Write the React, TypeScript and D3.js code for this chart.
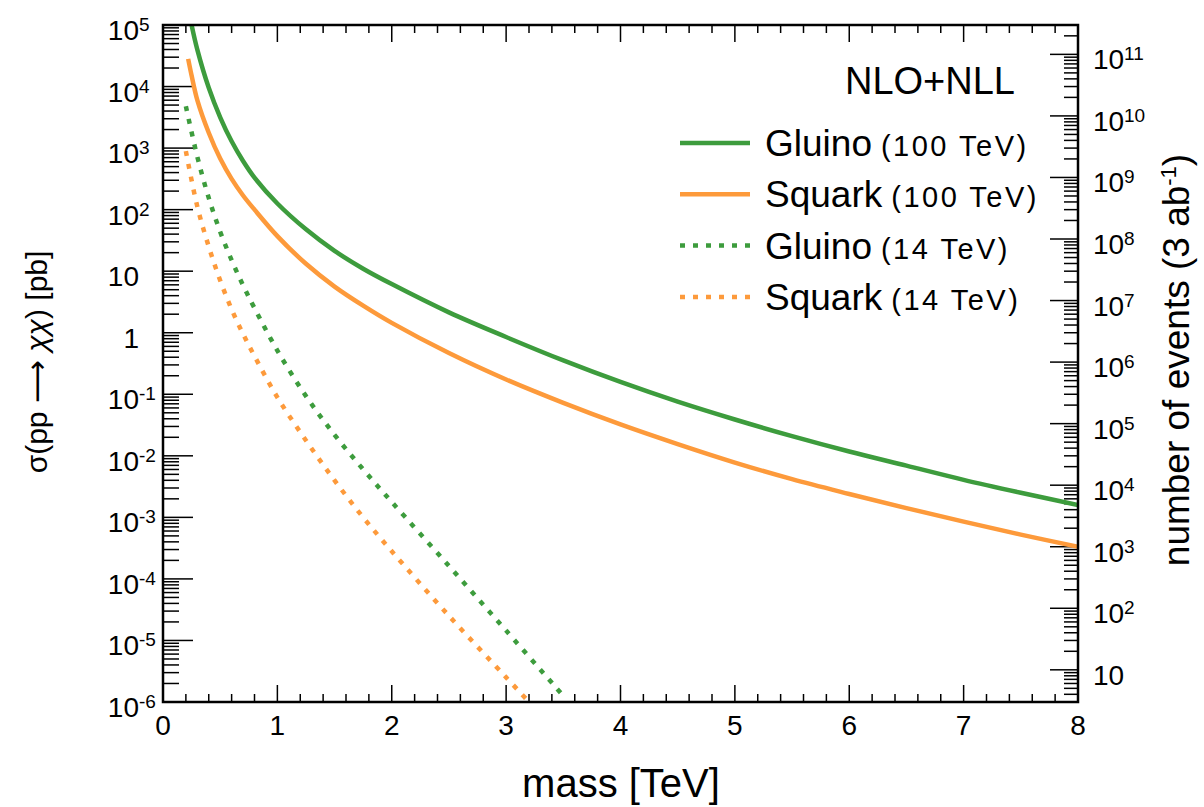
import React, { useEffect, useRef } from 'react';
import * as d3 from 'd3';

// values, as log10(sigma / pb)
const gluino100Mass = [0.25, 0.3, 0.4, 0.5, 0.6, 0.7, 0.8, 1.0, 1.25, 1.5, 1.75, 2.0, 2.5, 3.0, 3.5, 4.0, 4.5, 5.0, 5.5, 6.0, 6.5, 7.0, 7.5, 8.0];
const gluino100Log = [5.0, 4.6, 3.98, 3.5, 3.11, 2.79, 2.52, 2.1, 1.68, 1.33, 1.04, 0.79, 0.33, -0.07, -0.45, -0.8, -1.12, -1.41, -1.68, -1.93, -2.16, -2.39, -2.6, -2.8];

const squark100Mass = [0.22, 0.25, 0.3, 0.4, 0.5, 0.6, 0.7, 0.8, 1.0, 1.25, 1.5, 1.75, 2.0, 2.5, 3.0, 3.5, 4.0, 4.5, 5.0, 5.5, 6.0, 6.5, 7.0, 7.5, 8.0];
const squark100Log = [4.45, 4.18, 3.78, 3.25, 2.83, 2.5, 2.23, 2.0, 1.57, 1.12, 0.75, 0.44, 0.16, -0.33, -0.76, -1.14, -1.49, -1.81, -2.11, -2.38, -2.62, -2.85, -3.07, -3.28, -3.48];

const gluino14Mass = [0.2, 0.3, 0.4, 0.5, 0.6, 0.7, 0.8, 1.0, 1.25, 1.5, 1.75, 2.0, 2.5, 3.0, 3.5];
const gluino14Log = [3.68, 2.86, 2.19, 1.64, 1.18, 0.77, 0.4, -0.29, -1.03, -1.66, -2.22, -2.75, -3.79, -4.84, -5.9];

const squark14Mass = [0.2, 0.3, 0.4, 0.5, 0.6, 0.7, 0.8, 1.0, 1.25, 1.5, 1.75, 2.0, 2.5, 3.0, 3.2];
const squark14Log = [2.95, 2.05, 1.4, 0.85, 0.38, -0.02, -0.38, -1.05, -1.75, -2.4, -3.0, -3.55, -4.6, -5.6, -6.0];

const massTicks = [0, 1, 2, 3, 4, 5, 6, 7, 8];
const xsecExponents = [5, 4, 3, 2, 1, 0, -1, -2, -3, -4, -5, -6];
const eventExponents = [11, 10, 9, 8, 7, 6, 5, 4, 3, 2, 1];
const luminosity = 3e6; // 3 ab^-1 in pb^-1

const legendLabels = ['Gluino', 'Squark', 'Gluino', 'Squark'];
const legendEnergies = ['(100 TeV)', '(100 TeV)', '(14 TeV)', '(14 TeV)'];

const GREEN = '#3d9c3d';
const ORANGE = '#fd9a3b';
const FONT = '"Liberation Sans", Arial, Helvetica, sans-serif';

const App = () => {
  const ref = useRef<SVGSVGElement | null>(null);

  useEffect(() => {
    const W = 1204, H = 807;
    const margin = { top: 25, right: 126, bottom: 105, left: 163 };
    const w = W - margin.left - margin.right;
    const h = H - margin.top - margin.bottom;

    const svg = d3.select(ref.current);
    svg.selectAll('*').remove();

    const x = d3.scaleLinear().domain([0, 8]).range([0, w]);
    const y = d3.scaleLog().domain([1e-6, 1e5]).range([h, 0]);
    const yR = d3.scaleLog().domain([1e-6 * luminosity, 1e5 * luminosity]).range([h, 0]);

    svg.append('defs').append('clipPath').attr('id', 'plotclip')
      .append('rect').attr('width', w).attr('height', h);

    const g = svg.append('g').attr('transform', `translate(${margin.left},${margin.top})`);

    // x ticks, bottom and top
    const xMinor = d3.range(0, 8.001, 0.2);
    xMinor.forEach(v => {
      const major = Math.abs(v - Math.round(v)) < 1e-6;
      const len = major ? 17 : 8;
      g.append('line').attr('x1', x(v)).attr('x2', x(v)).attr('y1', h).attr('y2', h - len)
        .attr('stroke', '#000').attr('stroke-width', 1.5);
      g.append('line').attr('x1', x(v)).attr('x2', x(v)).attr('y1', 0).attr('y2', len)
        .attr('stroke', '#000').attr('stroke-width', 1.5);
    });
    massTicks.forEach(v => {
      g.append('text').attr('x', x(v)).attr('y', h + 33).attr('text-anchor', 'middle')
        .attr('font-family', FONT).attr('font-size', 28).text(v);
    });

    // left axis ticks
    for (let e = -6; e < 5; e++) {
      for (let k = 1; k < 10; k++) {
        const v = k * Math.pow(10, e);
        g.append('line').attr('x1', 0).attr('x2', k === 1 ? 30 : 16)
          .attr('y1', y(v)).attr('y2', y(v)).attr('stroke', '#000').attr('stroke-width', 1.5);
      }
    }
    g.append('line').attr('x1', 0).attr('x2', 30).attr('y1', y(1e5)).attr('y2', y(1e5))
      .attr('stroke', '#000').attr('stroke-width', 1.5);

    xsecExponents.forEach(e => {
      const t = g.append('text').attr('x', -24).attr('y', y(Math.pow(10, e)) + 15)
        .attr('font-family', FONT).attr('font-size', 28).attr('text-anchor', 'end');
      if (e === 0) t.text('1');
      else if (e === 1) t.text('10');
      else {
        t.text('10');
        g.append('text').attr('x', -24).attr('y', y(Math.pow(10, e)) + 6)
          .attr('font-family', FONT).attr('font-size', 19).attr('text-anchor', 'start')
          .text(e < 0 ? `-${-e}` : `${e}`);
      }
    });

    // right axis (number of events)
    const [lo, hi] = yR.domain();
    for (let e = 0; e < 12; e++) {
      for (let k = 1; k < 10; k++) {
        const v = k * Math.pow(10, e);
        if (v < lo || v > hi) continue;
        g.append('line').attr('x1', w).attr('x2', w - (k === 1 ? 28 : 14))
          .attr('y1', yR(v)).attr('y2', yR(v)).attr('stroke', '#000').attr('stroke-width', 1.5);
      }
    }
    eventExponents.forEach(e => {
      const yy = yR(Math.pow(10, e));
      g.append('text').attr('x', w + 15).attr('y', yy + 15)
        .attr('font-family', FONT).attr('font-size', 28).text('10');
      if (e !== 1) {
        g.append('text').attr('x', w + 15 + 31).attr('y', yy + 6)
          .attr('font-family', FONT).attr('font-size', 19).text(e);
      }
    });

    // curves
    const line = d3.line<[number, number]>()
      .x(d => x(d[0]))
      .y(d => y(Math.pow(10, d[1])))
      .curve(d3.curveCatmullRom.alpha(0.5));

    const series = [
      { m: gluino100Mass, v: gluino100Log, color: GREEN, dash: null },
      { m: squark100Mass, v: squark100Log, color: ORANGE, dash: null },
      { m: gluino14Mass, v: gluino14Log, color: GREEN, dash: '5 8' },
      { m: squark14Mass, v: squark14Log, color: ORANGE, dash: '5 8' },
    ];
    const plot = g.append('g').attr('clip-path', 'url(#plotclip)');
    series.forEach(s => {
      const pts = s.m.map((m, i) => [m, s.v[i]] as [number, number]);
      plot.append('path').attr('d', line(pts)).attr('fill', 'none')
        .attr('stroke', s.color).attr('stroke-width', 4.5)
        .attr('stroke-dasharray', s.dash);
    });

    // frame
    g.append('rect').attr('width', w).attr('height', h).attr('fill', 'none')
      .attr('stroke', '#000').attr('stroke-width', 2.5);

    // legend
    g.append('text').attr('x', 1015 - margin.left).attr('y', 94 - margin.top)
      .attr('text-anchor', 'end').attr('font-family', FONT).attr('font-size', 38).text('NLO+NLL');
    series.forEach((s, i) => {
      const yy = 143 - margin.top + i * 51.3;
      g.append('line').attr('x1', 680 - margin.left).attr('x2', 750 - margin.left)
        .attr('y1', yy).attr('y2', yy).attr('stroke', s.color).attr('stroke-width', 4.5)
        .attr('stroke-dasharray', s.dash);
      const t = g.append('text').attr('x', 765 - margin.left).attr('y', yy + 13)
        .attr('font-family', FONT).attr('font-size', 37);
      t.append('tspan').text(legendLabels[i]);
      t.append('tspan').attr('dx', 9).attr('font-size', 29).attr('letter-spacing', 2.5)
        .text(legendEnergies[i]);
    });

    // axis titles
    svg.append('text').attr('x', 621).attr('y', 797).attr('text-anchor', 'middle')
      .attr('font-family', FONT).attr('font-size', 40).text('mass [TeV]');

    const yt = svg.append('text').attr('transform', 'translate(47,362) rotate(-90)')
      .attr('text-anchor', 'middle').attr('font-family', FONT).attr('font-size', 30);
    yt.append('tspan').text('σ(pp ');
    yt.append('tspan').attr('font-family', '"DejaVu Sans", sans-serif').text('⟶');
    yt.append('tspan').text(' ');
    yt.append('tspan').attr('font-style', 'italic').text('χχ');
    yt.append('tspan').text(') [pb]');

    const rt = svg.append('text').attr('transform', 'translate(1189,360) rotate(-90)')
      .attr('text-anchor', 'middle').attr('font-family', FONT).attr('font-size', 37);
    rt.append('tspan').text('number of events (3 ab');
    rt.append('tspan').attr('font-size', 22).attr('dy', -13).text('-1');
    rt.append('tspan').attr('dy', 13).text(')');
  }, []);

  return (
    <div style={{ position: 'absolute', left: 0, top: 0, background: '#fff' }}>
      <svg ref={ref} width={1204} height={807} />
    </div>
  );
};

export default App;
